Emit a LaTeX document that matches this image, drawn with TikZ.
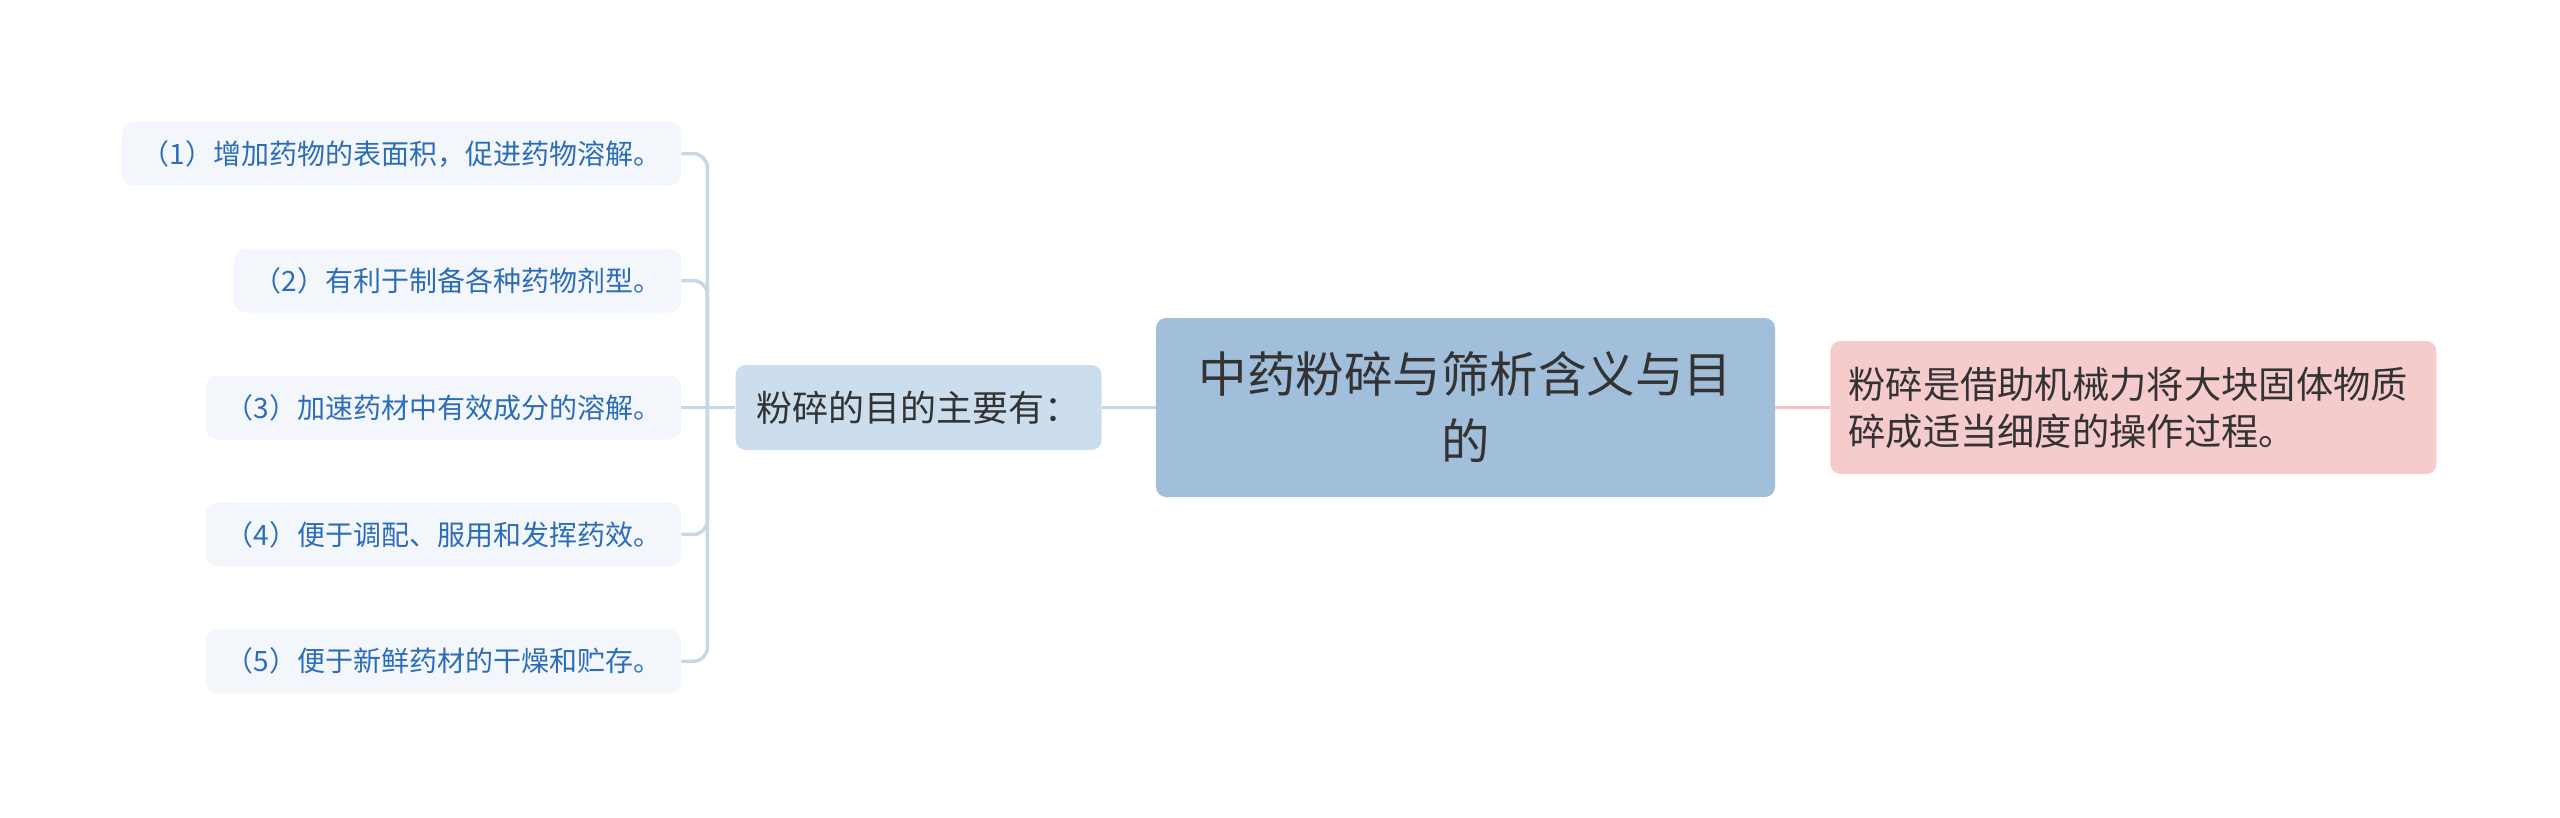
\documentclass[tikz,border=0pt]{standalone}
\usepackage{fontspec}
\setmainfont{Noto Sans CJK SC}
\usetikzlibrary{positioning}
\definecolor{rootblue}{HTML}{A1BFDB}
\definecolor{aimblue}{HTML}{CCDDEE}
\definecolor{leaffill}{HTML}{F3F7FC}
\definecolor{leaftext}{HTML}{2D6DB8}
\definecolor{linkblue}{HTML}{C6D7E9}
\definecolor{notepink}{HTML}{F5CBCC}
\definecolor{linkpink}{HTML}{F3C4C7}
\definecolor{darktext}{HTML}{333333}
\tikzset{
	topic/.style={
		rectangle,
		rounded corners=10pt,
		minimum width=619pt,
		minimum height=179pt,
		align=center,
		fill=rootblue,
		text=darktext,
		font=\fontsize{48.5}{67}\selectfont
	},
	subtopic/.style={
		rectangle,
		rounded corners=10pt,
		minimum width=366pt,
		minimum height=85pt,
		fill=aimblue,
		text=darktext,
		font=\fontsize{36}{44}\selectfont
	},
	remark/.style={
		rectangle,
		rounded corners=10pt,
		text width=570pt,
		inner xsep=18pt,
		minimum height=133pt,
		align=left,
		fill=notepink,
		text=darktext,
		font=\fontsize{37.3}{47}\selectfont
	},
	leaf/.style={
		rectangle,
		rounded corners=12pt,
		minimum height=64pt,
		inner xsep=20pt,
		fill=leaffill,
		text=leaftext,
		font=\fontsize{28}{34}\selectfont
	},
	link/.style={line width=3.5pt, draw=linkblue},
	pinklink/.style={line width=3.5pt, draw=linkpink}
}

\begin{document}
\begin{tikzpicture}
	\useasboundingbox (-1465.5pt,-409.5pt) rectangle (1094.5pt,407.5pt);
	\node (root) [topic] at (0,0) {中药粉碎与筛析含义与目\\的};
	\node (aim) [subtopic, left=54pt of root] {粉碎的目的主要有：};
	\node (note) [remark, right=55pt of root] {粉碎是借助机械力将大块固体物质\\碎成适当细度的操作过程。};
	\coordinate [left=28pt of aim.west] (spine);
	
	\node (p3) [leaf, left=54pt of aim] {（3）加速药材中有效成分的溶解。};
	\node (p2) [leaf, above=62.5pt of p3.north east, anchor=south east] {（2）有利于制备各种药物剂型。};
	\node (p1) [leaf, above=62.5pt of p2.north east, anchor=south east] {（1）增加药物的表面积，促进药物溶解。};
	\node (p4) [leaf, below=62.5pt of p3.south east, anchor=north east] {（4）便于调配、服用和发挥药效。};
	\node (p5) [leaf, below=62.5pt of p4.south east, anchor=north east] {（5）便于新鲜药材的干燥和贮存。};
	
	\draw [link] (root.west) -- (aim.east);
	\draw [link] (aim.west) -- (p3.east);
	\draw [link, rounded corners=14pt] (spine) |- (p1.east);
	\draw [link, rounded corners=14pt] (spine) |- (p2.east);
	\draw [link, rounded corners=14pt] (spine) |- (p4.east);
	\draw [link, rounded corners=14pt] (spine) |- (p5.east);
	\draw [pinklink] (root.east) -- (note.west);
\end{tikzpicture}
\end{document}
